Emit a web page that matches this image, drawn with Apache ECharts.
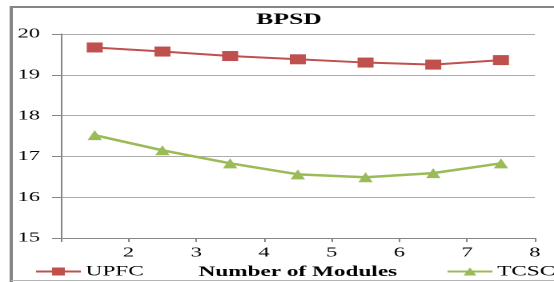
<!DOCTYPE html>
<html>
<head>
<meta charset="utf-8">
<script src="https://cdn.jsdelivr.net/npm/echarts@6/dist/echarts.min.js"></script>
<style>
  html, body { margin: 0; padding: 0; background: #fff; overflow: hidden; }
  /* the source picture is stretched sideways, so the chart is drawn narrow and widened */
  #chart { width: 346px; height: 282px; transform: scaleX(1.6012); transform-origin: 0 0; }
</style>
</head>
<body>
<div id="chart"></div>
<script>
// Number of modules sits between the integer ticks (1.5, 2.5, ...)
const modules = [1.5, 2.5, 3.5, 4.5, 5.5, 6.5, 7.5];
const upfc = [19.67, 19.57, 19.46, 19.38, 19.30, 19.25, 19.36];
const tcsc = [17.52, 17.15, 16.83, 16.56, 16.49, 16.59, 16.83];

const pairs = (xs, ys) => xs.map((x, i) => [x, ys[i]]);
const serif = '"Liberation Serif", "DejaVu Serif", serif';

// extra pixels so the widened canvas stays smooth
const chart = echarts.init(document.getElementById('chart'), null, { renderer: 'canvas', devicePixelRatio: 2 });

chart.setOption({
  animation: false,
  title: {
    text: 'BPSD',
    left: 175.5,
    top: 7,
    textAlign: 'center',
    textStyle: { fontFamily: serif, fontSize: 16, fontWeight: 'bold', color: '#000' }
  },
  legend: [
    {
      data: ['UPFC'],
      left: 21.5,
      top: 264,
      itemWidth: 28,
      itemHeight: 10,
      itemGap: 3,
      padding: 0,
      textStyle: { fontFamily: serif, fontSize: 14.5, color: '#000', padding: [0, 0, 0, -2] }
    },
    {
      data: ['TCSC'],
      left: 278.5,
      top: 264,
      itemWidth: 28,
      itemHeight: 10,
      itemGap: 3,
      padding: 0,
      textStyle: { fontFamily: serif, fontSize: 14.5, color: '#000', padding: [0, 0, 0, -2] }
    }
  ],
  graphic: [
    {
      type: 'polyline',
      shape: { points: [[7, 290], [7, 7], [360, 7]] },
      style: { fill: 'none', stroke: '#858585', lineWidth: 2 },
      silent: true
    },
    {
      type: 'line',
      shape: { x1: 7, y1: 280.5, x2: 360, y2: 280.5 },
      style: { stroke: '#b5b5b5', lineWidth: 1 },
      silent: true
    }
  ],
  grid: { left: 38, right: 12, top: 34, bottom: 44, outerBoundsMode: 'none' },
  xAxis: {
    type: 'value',
    min: 1,
    max: 8,
    interval: 1,
    name: 'Number of Modules',
    nameLocation: 'middle',
    nameGap: 25,
    nameTextStyle: { fontFamily: serif, fontSize: 14.5, fontWeight: 'bold', color: '#000' },
    axisLine: { lineStyle: { color: '#868686', width: 1 } },
    axisTick: { lineStyle: { color: '#868686' }, length: 4 },
    axisLabel: {
      fontFamily: serif,
      fontSize: 14,
      color: '#000',
      margin: 8,
      formatter: v => (v === 1 ? '' : String(v))
    },
    splitLine: { show: false }
  },
  yAxis: {
    type: 'value',
    min: 15,
    max: 20,
    interval: 1,
    axisLine: { show: true, lineStyle: { color: '#868686', width: 1 } },
    axisTick: { show: true, lineStyle: { color: '#868686' }, length: 5.5 },
    axisLabel: { fontFamily: serif, fontSize: 14, color: '#000', margin: 13 },
    splitLine: { lineStyle: { color: '#ababab', width: 1 } }
  },
  series: [
    {
      name: 'UPFC',
      type: 'line',
      data: pairs(modules, upfc),
      symbol: 'rect',
      symbolSize: [10, 10],
      itemStyle: { color: '#c0504d' },
      lineStyle: { color: '#c0504d', width: 2 }
    },
    {
      name: 'TCSC',
      type: 'line',
      data: pairs(modules, tcsc),
      symbol: 'triangle',
      symbolSize: [9, 10],
      itemStyle: { color: '#9bbb59' },
      lineStyle: { color: '#9bbb59', width: 2.5 }
    }
  ]
});
</script>
</body>
</html>
